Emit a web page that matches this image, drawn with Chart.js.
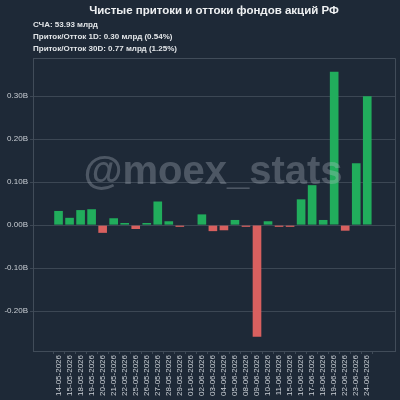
<!DOCTYPE html>
<html>
<head>
<meta charset="utf-8">
<script src="https://cdn.jsdelivr.net/npm/chart.js@4/dist/chart.umd.min.js"></script>
<style>
  html, body { margin: 0; padding: 0; background: #1e2937; }
  #wrap { width: 400px; height: 400px; }
</style>
</head>
<body>
<div id="wrap"><canvas id="chartFlows"></canvas></div>
<script>
// Данные графика
const dates = [
  '14-05-2026', '15-05-2026', '18-05-2026', '19-05-2026', '20-05-2026',
  '21-05-2026', '22-05-2026', '25-05-2026', '26-05-2026', '27-05-2026',
  '28-05-2026', '29-05-2026', '01-06-2026', '02-06-2026', '03-06-2026',
  '04-06-2026', '05-06-2026', '08-06-2026', '09-06-2026', '10-06-2026',
  '11-06-2026', '15-06-2026', '16-06-2026', '17-06-2026', '18-06-2026',
  '19-06-2026', '22-06-2026', '23-06-2026', '24-06-2026'
];
// чистый приток, млрд
const flows = [
  0.033, 0.017, 0.035, 0.037, -0.018,
  0.016, 0.005, -0.009, 0.005, 0.055,
  0.009, -0.004, 0.000, 0.025, -0.014,
  -0.012, 0.012, -0.004, -0.260, 0.009,
  -0.004, -0.004, 0.060, 0.093, 0.012,
  0.357, -0.013, 0.144, 0.300
];
const yTicks = [-0.2, -0.1, 0.0, 0.1, 0.2, 0.3];

const titleText = 'Чистые притоки и оттоки фондов акций РФ';
const infoLines = [
  'СЧА: 53.93 млрд',
  'Приток/Отток 1D: 0.30 млрд (0.54%)',
  'Приток/Отток 30D: 0.77 млрд (1.25%)'
];
const watermark = '@moex_stats';

// Цвета
const BG = '#1e2937';
const GREEN = '#21ad5c';
const RED = '#d9605f';
const GRID = '#3c4754';
const FRAME = '#414c59';
const TICK_TEXT = '#c9ced4';
const FONT = '"Liberation Sans", Arial, sans-serif';

// Фон, рамка и заголовки
const decorPlugin = {
  id: 'decor',
  beforeDraw(chart) {
    const ctx = chart.ctx;
    ctx.save();
    ctx.fillStyle = BG;
    ctx.fillRect(0, 0, chart.width, chart.height);
    ctx.restore();
  },
  afterDraw(chart) {
    const ctx = chart.ctx;
    const a = chart.chartArea;
    ctx.save();
    ctx.strokeStyle = FRAME;
    ctx.lineWidth = 1;
    ctx.beginPath();
    ctx.moveTo(a.left, a.top + 0.5);
    ctx.lineTo(a.right + 0.5, a.top + 0.5);
    ctx.lineTo(a.right + 0.5, a.bottom);
    ctx.stroke();

    ctx.fillStyle = '#eef0f2';
    ctx.textAlign = 'center';
    ctx.textBaseline = 'middle';
    ctx.font = 'bold 11.5px ' + FONT;
    ctx.fillText(titleText, (a.left + a.right) / 2, 11);

    ctx.fillStyle = '#e2e5e8';
    ctx.textAlign = 'left';
    ctx.font = 'bold 8px ' + FONT;
    infoLines.forEach((line, i) => {
      ctx.fillText(line, a.left, 25 + i * 12);
    });
    ctx.restore();
  },
  afterDatasetsDraw(chart) {
    const ctx = chart.ctx;
    const a = chart.chartArea;
    ctx.save();
    ctx.fillStyle = 'rgba(190, 196, 204, 0.3)';
    ctx.textAlign = 'center';
    ctx.textBaseline = 'alphabetic';
    ctx.font = 'bold 40px ' + FONT;
    ctx.fillText(watermark, (a.left + a.right) / 2 - 1, 184);
    ctx.restore();
  }
};

const ctx = document.getElementById('chartFlows').getContext('2d');
const chart = new Chart(ctx, {
  type: 'bar',
  data: {
    datasets: [{
      label: 'Приток/Отток',
      data: flows.map((v, i) => ({ x: i, y: v })),
      backgroundColor: flows.map(v => (v >= 0 ? GREEN : RED)),
      borderWidth: 0,
      barPercentage: 0.98,
      categoryPercentage: 0.8
    }]
  },
  options: {
    responsive: true,
    maintainAspectRatio: false,
    animation: false,
    layout: { padding: { top: 58, right: 5, left: 0, bottom: 0 } },
    plugins: {
      legend: { display: false },
      tooltip: { enabled: false }
    },
    scales: {
      x: {
        type: 'linear',
        min: -1.75,
        max: 29.95,
        afterBuildTicks: s => { s.ticks = dates.map((d, i) => ({ value: i })); },
        afterFit: s => { s.height = 49; },
        ticks: {
          autoSkip: false,
          minRotation: 90,
          maxRotation: 90,
          padding: 1,
          color: TICK_TEXT,
          font: { family: FONT, size: 8 },
          callback: v => dates[v]
        },
        grid: { drawOnChartArea: false, drawTicks: true, tickLength: 3, color: FRAME },
        border: { color: FRAME }
      },
      y: {
        min: -0.293,
        max: 0.389,
        afterBuildTicks: s => { s.ticks = yTicks.map(v => ({ value: v })); },
        afterFit: s => { s.width = 33; },
        ticks: {
          padding: 2,
          color: TICK_TEXT,
          font: { family: FONT, size: 8 },
          callback: v => v.toFixed(2) + 'B'
        },
        grid: { color: GRID, tickLength: 3 },
        border: { color: FRAME }
      }
    }
  },
  plugins: [decorPlugin]
});
</script>
</body>
</html>
